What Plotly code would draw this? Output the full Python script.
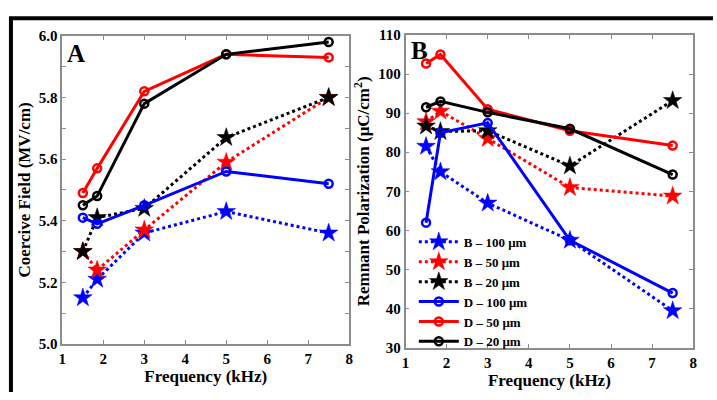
import plotly.graph_objects as go

freq = [1.5, 1.85, 3, 5, 7.5]

# Panel A: Coercive Field (MV/cm)
ec_B100 = [5.15, 5.21, 5.36, 5.43, 5.36]
ec_B50 = [5.30, 5.24, 5.37, 5.59, 5.80]
ec_B20 = [5.30, 5.41, 5.44, 5.67, 5.80]
ec_D100 = [5.41, 5.39, 5.45, 5.56, 5.52]
ec_D50 = [5.49, 5.57, 5.82, 5.94, 5.93]
ec_D20 = [5.45, 5.48, 5.78, 5.94, 5.98]

# Panel B: Remnant Polarization (uC/cm2)
pr_B100 = [81.5, 75.0, 67.0, 57.5, 39.5]
pr_B50 = [87.8, 90.5, 83.5, 71.0, 68.8]
pr_B20 = [86.7, 85.3, 85.5, 76.5, 93.2]
pr_D100 = [62.0, 85.0, 87.5, 57.5, 44.0]
pr_D50 = [102.7, 105.0, 91.0, 85.5, 81.7]
pr_D20 = [91.5, 93.0, 90.2, 86.0, 74.3]

names = ["B \u2013 100 \u03bcm", "B \u2013 50 \u03bcm", "B \u2013 20 \u03bcm",
         "D \u2013 100 \u03bcm", "D \u2013 50 \u03bcm", "D \u2013 20 \u03bcm"]
colors = ["#0000ff", "#ff0000", "#000000", "#0000ff", "#ff0000", "#000000"]

A = [ec_B100, ec_B50, ec_B20, ec_D100, ec_D50, ec_D20]
B = [pr_B100, pr_B50, pr_B20, pr_D100, pr_D50, pr_D20]

fig = go.Figure()

def add(ys, i, xa, ya, show):
    star = i < 3
    fig.add_trace(go.Scatter(
        x=freq, y=ys, name=names[i], legendgroup=names[i], showlegend=show,
        xaxis=xa, yaxis=ya, mode="lines+markers",
        line=dict(color=colors[i], width=3, dash="dot" if star else "solid"),
        marker=dict(symbol="star" if star else "circle-open",
                    size=14 if star else 8, color=colors[i],
                    line=dict(width=0.5 if star else 2.5, color=colors[i])),
    ))

for i in range(6):
    add(A[i], i, "x", "y", False)
for i in range(6):
    add(B[i], i, "x2", "y2", True)

tickfont = dict(family="Liberation Serif", size=15, color="black", weight="bold")
titlefont = dict(family="Liberation Serif", size=17, color="black", weight="bold")
axcommon = dict(showgrid=False, zeroline=False, showline=True, linecolor="#8c8c8c",
                linewidth=1.5, mirror="ticks", ticks="inside", ticklen=4,
                tickcolor="#8c8c8c", tickfont=tickfont)

fig.update_layout(
    width=717, height=400,
    margin=dict(l=0, r=0, t=0, b=0),
    paper_bgcolor="white", plot_bgcolor="white",
    font=dict(family="Liberation Serif", color="black"),
    xaxis=dict(domain=[0.0823, 0.4868], range=[1, 8], dtick=1, anchor="y",
               title=dict(text="Frequency (kHz)", font=titlefont, standoff=4),
               **axcommon),
    yaxis=dict(domain=[0.125, 0.9275], range=[5.0, 6.0], dtick=0.2, tickformat=".1f",
               anchor="x",
               minor=dict(dtick=0.1, ticks="inside", ticklen=4, tickcolor="#8c8c8c"),
               title=dict(text="Coercive Field (MV/cm)", font=titlefont, standoff=4),
               **axcommon),
    xaxis2=dict(domain=[0.5663, 0.9721], range=[1, 8], dtick=1, anchor="y2",
                title=dict(text="Frequency (kHz)", font=titlefont, standoff=4),
                **axcommon),
    yaxis2=dict(domain=[0.115, 0.93], range=[30, 110], dtick=10, anchor="x2",
                title=dict(text="Remnant Polarization (\u03bcC/cm<sup>2</sup>)",
                           font=titlefont, standoff=4),
                **axcommon),
    legend=dict(x=0.578, y=0.43, xanchor="left", yanchor="top",
                bgcolor="rgba(0,0,0,0)",
                font=dict(family="Liberation Serif", size=13, color="black", weight="bold"),
                tracegroupgap=0, itemwidth=40),
    showlegend=True,
)

fig.add_annotation(text="A", x=73 / 717, y=1 - 47 / 400, xref="paper", yref="paper",
                   xanchor="center", yanchor="middle", showarrow=False,
                   font=dict(family="Liberation Serif", size=25, color="black", weight="bold"))
fig.add_annotation(text="B", x=420 / 717, y=1 - 44 / 400, xref="paper", yref="paper",
                   xanchor="center", yanchor="middle", showarrow=False,
                   font=dict(family="Liberation Serif", size=25, color="black", weight="bold"))

# black frame lines
fig.add_shape(type="line", xref="paper", yref="paper", x0=0.007, x1=1.0, y0=0.973, y1=0.973,
              line=dict(color="black", width=4))
fig.add_shape(type="line", xref="paper", yref="paper", x0=0.0098, x1=0.0098, y0=0.0, y1=0.975,
              line=dict(color="black", width=4))

fig.write_html("out.html", config={"displayModeBar": False},
               post_script="document.body.style.margin='0';document.documentElement.style.overflow='hidden';")
